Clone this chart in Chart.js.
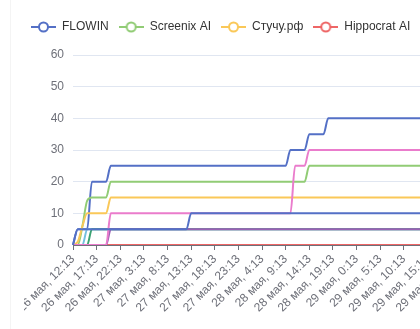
<!DOCTYPE html>
<html><head><meta charset="utf-8">
<script src="https://cdn.jsdelivr.net/npm/chart.js@4.4.0/dist/chart.umd.min.js"></script>
<style>
html,body{margin:0;padding:0;background:#fff;overflow:hidden;width:420px;height:329px;}
#wrap{position:absolute;left:0;top:0;width:480px;height:329px;}
#edge{position:absolute;left:10px;top:0;width:1px;height:329px;background:#f4f4f4;}
</style></head><body>
<div id="wrap"><canvas id="c" width="480" height="329"></canvas></div>
<div id="edge"></div>
<script>
// Hourly time stamps, starting 26 мая 12:13
const START_DAY = 26, START_HOUR = 12, MINUTE = '13', HOURS = 85;
const categories = [];
for (let i = 0; i < HOURS; i++) {
  const t = START_HOUR + i;
  categories.push((START_DAY + Math.floor(t / 24)) + ' мая, ' + (t % 24) + ':' + MINUTE);
}
const TICK_EVERY = 5;

const seriesNames = ['FLOWIN', 'Screenix AI', 'Стучу.рф', 'Hippocrat AI', 'Серия 5', 'Серия 6', 'Серия 7', 'Серия 8', 'Серия 9'];
const seriesColors = ['#5470c6', '#91cc75', '#fac858', '#ee6666', '#73c0de', '#3ba272', '#9a60b4', '#ea7ccc', '#5470c6'];

const flowin = [0,5,5,5,20,20,20,20,25,25,
  25,25,25,25,25,25,25,25,25,25,
  25,25,25,25,25,25,25,25,25,25,
  25,25,25,25,25,25,25,25,25,25,
  25,25,25,25,25,25,30,30,30,30,
  35,35,35,35,40,40,40,40,40,40,
  40,40,40,40,40,40,40,40,40,40,
  40,40,40,40,40,40,40,40,40,40,
  40,40,40,40,40];
const screenix = [0,0,6,14,15,15,15,15,20,20,
  20,20,20,20,20,20,20,20,20,20,
  20,20,20,20,20,20,20,20,20,20,
  20,20,20,20,20,20,20,20,20,20,
  20,20,20,20,20,20,20,20,20,20,
  25,25,25,25,25,25,25,25,25,25,
  25,25,25,25,25,25,25,25,25,25,
  25,25,25,25,25,25,25,25,25,25,
  25,25,25,25,25];
const stuchu = [0,1,6,10,10,10,10,10,15,15,
  15,15,15,15,15,15,15,15,15,15,
  15,15,15,15,15,15,15,15,15,15,
  15,15,15,15,15,15,15,15,15,15,
  15,15,15,15,15,15,15,15,15,15,
  15,15,15,15,15,15,15,15,15,15,
  15,15,15,15,15,15,15,15,15,15,
  15,15,15,15,15,15,15,15,15,15,
  15,15,15,15,15];
const hippocrat = [0,0,0,0,0,0,0,0,0,0,
  0,0,0,0,0,0,0,0,0,0,
  0,0,0,0,0,0,0,0,0,0,
  0,0,0,0,0,0,0,0,0,0,
  0,0,0,0,0,0,0,0,0,0,
  0,0,0,0,0,0,0,0,0,0,
  0,0,0,0,0,0,0,0,0,0,
  0,0,0,0,0,0,0,0,0,0,
  0,0,0,0,0];
const series5 = [0,0,0,5,5,5,5,5,5,5,
  5,5,5,5,5,5,5,5,5,5,
  5,5,5,5,5,5,5,5,5,5,
  5,5,5,5,5,5,5,5,5,5,
  5,5,5,5,5,5,5,5,5,5,
  5,5,5,5,5,5,5,5,5,5,
  5,5,5,5,5,5,5,5,5,5,
  5,5,5,5,5,5,5,5,5,5,
  5,5,5,5,5];
const series6 = [0,0,0,0,5,5,5,5,5,5,
  5,5,5,5,5,5,5,5,5,5,
  5,5,5,5,5,5,5,5,5,5,
  5,5,5,5,5,5,5,5,5,5,
  5,5,5,5,5,5,5,5,5,5,
  5,5,5,5,5,5,5,5,5,5,
  5,5,5,5,5,5,5,5,5,5,
  5,5,5,5,5,5,5,5,5,5,
  5,5,5,5,5];
const series7 = [0,0,0,0,0,0,0,0,5,5,
  5,5,5,5,5,5,5,5,5,5,
  5,5,5,5,5,5,5,5,5,5,
  5,5,5,5,5,5,5,5,5,5,
  5,5,5,5,5,5,5,5,5,5,
  5,5,5,5,5,5,5,5,5,5,
  5,5,5,5,5,5,5,5,5,5,
  5,5,5,5,5,5,5,5,5,5,
  5,5,5,5,5];
const series8 = [0,0,0,0,0,0,0,0,10,10,
  10,10,10,10,10,10,10,10,10,10,
  10,10,10,10,10,10,10,10,10,10,
  10,10,10,10,10,10,10,10,10,10,
  10,10,10,10,10,10,10,25,25,25,
  30,30,30,30,30,30,30,30,30,30,
  30,30,30,30,30,30,30,30,30,30,
  30,30,30,30,30,30,30,30,30,30,
  30,30,30,30,30];
const series9 = [0,5,5,5,5,5,5,5,5,5,
  5,5,5,5,5,5,5,5,5,5,
  5,5,5,5,5,10,10,10,10,10,
  10,10,10,10,10,10,10,10,10,10,
  10,10,10,10,10,10,10,10,10,10,
  10,10,10,10,10,10,10,10,10,10,
  10,10,10,10,10,10,10,10,10,10,
  10,10,10,10,10,10,10,10,10,10,
  10,10,10,10,10];
const seriesValues = [flowin, screenix, stuchu, hippocrat, series5, series6, series7, series8, series9];
const LEGEND_SHOWN = 4;
const yTicks = {min: 0, max: 60, step: 10};

function legendIcon(color) {
  const c = document.createElement('canvas');
  c.width = 25; c.height = 14;
  const g = c.getContext('2d');
  g.strokeStyle = color; g.lineWidth = 2;
  g.beginPath(); g.moveTo(0, 7); g.lineTo(25, 7); g.stroke();
  g.beginPath(); g.arc(12.5, 7, 4.5, 0, Math.PI * 2);
  g.fillStyle = '#fff'; g.fill(); g.stroke();
  return c;
}
const icons = seriesColors.map(legendIcon);

Chart.defaults.font.family = "'Liberation Sans', Arial, sans-serif";
Chart.defaults.font.size = 12;

const legendHeightFix = {
  id: 'legendHeightFix',
  beforeInit(chart) {
    const lg = chart.legend;
    const orig = lg.fit;
    lg.fit = function () { orig.call(this); this.height = 44; };
  }
};

// the leftmost axis label is cut off in the source view
const labelClip = {
  id: 'labelClip',
  beforeDraw(chart) {
    const s = chart.scales.x;
    if (s._clipPatched) return;
    const orig = s.drawLabels;
    s.drawLabels = function (area) {
      const ctx = this.ctx;
      ctx.save();
      ctx.beginPath();
      ctx.rect(24, 0, chart.width, chart.height);
      ctx.clip();
      orig.call(this, area);
      ctx.restore();
    };
    s._clipPatched = true;
  }
};

new Chart(document.getElementById('c'), {
  type: 'line',
  data: {
    labels: categories,
    datasets: seriesValues.map((vals, i) => ({
      label: seriesNames[i],
      data: vals,
      borderColor: seriesColors[i],
      backgroundColor: seriesColors[i],
      borderWidth: 2,
      pointRadius: 0,
      pointHoverRadius: 0,
      cubicInterpolationMode: 'monotone',
      fill: false,
      order: seriesValues.length - i
    }))
  },
  options: {
    responsive: false,
    animation: false,
    devicePixelRatio: 1,
    layout: {padding: {left: 21, top: 11, right: 10, bottom: 0}},
    plugins: {
      tooltip: {enabled: false},
      legend: {
        position: 'top',
        align: 'start',
        labels: {
          usePointStyle: true,
          pointStyleWidth: 25,
          padding: 10,
          color: '#333',
          font: {size: 12},
          generateLabels(chart) {
            return Chart.defaults.plugins.legend.labels.generateLabels(chart)
              .map(it => Object.assign(it, {pointStyle: icons[it.datasetIndex], lineWidth: 0}));
          },
          filter: (it) => it.datasetIndex < LEGEND_SHOWN,
          sort: (a, b) => a.datasetIndex - b.datasetIndex
        }
      }
    },
    scales: {
      x: {
        type: 'category',
        offset: false,
        afterFit(s) { s.height = 84; },
        border: {display: true, color: '#6E7079', width: 1},
        grid: {display: true, drawOnChartArea: false, drawTicks: true, tickLength: 5, color: '#6E7079'},
        ticks: {
          autoSkip: false,
          maxRotation: 45,
          minRotation: 45,
          color: '#6E7079',
          padding: 2,
          callback(v, i) { return i % TICK_EVERY === 0 ? categories[i] : null; }
        }
      },
      y: {
        min: yTicks.min,
        max: yTicks.max,
        afterFit(s) { s.width = 52; },
        border: {display: false},
        grid: {color: '#E0E6F1', drawTicks: false},
        ticks: {stepSize: yTicks.step, color: '#6E7079', padding: 9}
      }
    }
  },
  plugins: [legendHeightFix, labelClip]
});
</script></body></html>
